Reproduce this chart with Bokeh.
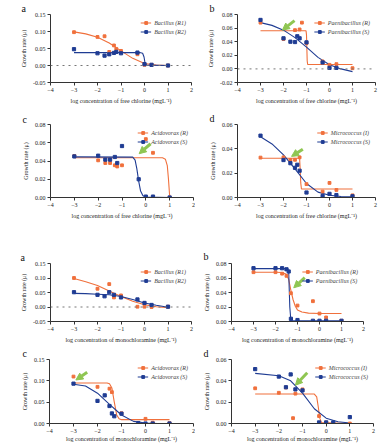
from bokeh.plotting import figure
from bokeh.models import (Range1d, FixedTicker, NumeralTickFormatter, Span, Arrow,
                          NormalHead, Legend, LegendItem)
from bokeh.layouts import column, row
from bokeh.embed import file_html
from bokeh.resources import INLINE

ORANGE = "#f0703c"
BLUE = "#1f3c93"
GREEN = "#8fc652"
FONT = "Liberation Serif"

X_TICKS = [-4, -3, -2, -1, 0, 1, 2]
XLAB_FC = "log concentration of free chlorine (mgL\u207b\u00b9)"
XLAB_MC = "log concentration of monochloramine (mgL\u207b\u00b9)"
YLAB = "Growth rate (\u03bc)"

# ---------------- Free chlorine ----------------
# a: Bacillus
fc_a_r1_x = [-3, -2, -1.7, -1.5, -1.3, -1.2, -1, -0.3, 0, 0.3, 1]
fc_a_r1_y = [0.098, 0.084, 0.086, 0.040, 0.059, 0.049, 0.043, 0.033, 0.002, 0.002, 0.0]
fc_a_r2_x = [-3, -2, -1.7, -1.5, -1.3, -1.2, -1, -0.3, 0, 0.3, 1]
fc_a_r2_y = [0.048, 0.036, 0.029, 0.033, 0.037, 0.040, 0.036, 0.038, 0.004, 0.002, 0.0]
fc_a_r1_fx = [-3, -2.5, -2, -1.5, -1, -0.5, 0, 0.5, 1]
fc_a_r1_fy = [0.099, 0.093, 0.083, 0.066, 0.043, 0.021, 0.006, 0.001, 0.0]
fc_a_r2_fx = [-3, -0.2, -0.08, -0.02, 0.02, 0.1, 1]
fc_a_r2_fy = [0.038, 0.038, 0.036, 0.025, 0.008, 0.001, 0.0]

# b: Paenibacillus
fc_b_r_x = [-3, -2, -1.5, -1.3, -1.2, -1, -0.3, 0, 0.3, 1]
fc_b_r_y = [0.068, 0.044, 0.057, 0.058, 0.068, 0.038, 0.011, 0.006, 0.007, 0.001]
fc_b_s_x = [-3, -2, -1.7, -1.5, -1.4, -1.3, -1, -0.3, 0, 0.3]
fc_b_s_y = [0.072, 0.045, 0.040, 0.0395, 0.048, 0.045, 0.039, 0.0095, 0.0015, 0.0015]
fc_b_r_fx = [-3, -1.02, -1.0, -0.97, -0.95, 1]
fc_b_r_fy = [0.056, 0.056, 0.05, 0.012, 0.0065, 0.0065]
fc_b_s_fx = [-3, -2.5, -2, -1.5, -1, -0.5, 0, 0.5, 1]
fc_b_s_fy = [0.068, 0.064, 0.057, 0.046, 0.032, 0.017, 0.006, 0.0, -0.004]

# c: Acidovorax
fc_c_r_x = [-3, -2, -1.7, -1.5, -1.3, -1.2, -1, 0, 0.3, 1]
fc_c_r_y = [0.0455, 0.0407, 0.0378, 0.0378, 0.0353, 0.034, 0.0353, 0.064, 0.049, 0.0]
fc_c_s_x = [-3, -2, -1.7, -1.5, -1.3, -1.2, -1, -0.3, 0, 0.3, 1]
fc_c_s_y = [0.045, 0.0458, 0.0415, 0.0415, 0.0444, 0.0378, 0.0564, 0.02, 0.001, 0.001, 0.0]
fc_c_r_fx = [-3, 0.7, 0.82, 0.9, 0.95, 0.99, 1.01]
fc_c_r_fy = [0.0435, 0.0435, 0.042, 0.035, 0.02, 0.005, 0.0]
fc_c_s_fx = [-3, -0.55, -0.45, -0.38, -0.3, -0.22, -0.12, 0, 1]
fc_c_s_fy = [0.0445, 0.0443, 0.041, 0.032, 0.018, 0.007, 0.002, 0.0005, 0.0]

# d: Micrococcus
fc_d_i_x = [-3, -2, -1.7, -1.5, -1.3, -1, -0.3, 0, 0.3, 1]
fc_d_i_y = [0.0328, 0.033, 0.0308, 0.031, 0.033, 0.011, 0.0049, 0.012, 0.0062, 0.0018]
fc_d_s_x = [-3, -2, -1.7, -1.5, -1.4, -1.3, -1, -0.3, 0, 0.3, 1]
fc_d_s_y = [0.0508, 0.0308, 0.0282, 0.0244, 0.0269, 0.022, 0.0041, 0.0013, 0.003, 0.002, 0.001]
fc_d_i_fx = [-3, -1.3, -1.28, -1.25, -1.22, 1]
fc_d_i_fy = [0.0323, 0.0323, 0.025, 0.012, 0.007, 0.007]
fc_d_s_fx = [-3, -2.5, -2, -1.5, -1, -0.5, 0, 0.5, 1]
fc_d_s_fy = [0.050, 0.044, 0.035, 0.0236, 0.0115, 0.0044, 0.0018, 0.0008, 0.0005]

# ---------------- Monochloramine ----------------
# a: Bacillus
mc_a_r1_x = [-3, -2, -1.5, -1.3, -1, -0.3, 0, 0.3, 1]
mc_a_r1_y = [0.1, 0.063, 0.079, 0.033, 0.04, 0.001, 0.001, 0.0, 0.001]
mc_a_r2_x = [-3, -2, -1.7, -1.5, -1.3, -1, -0.3, 0, 0.3, 1]
mc_a_r2_y = [0.051, 0.042, 0.037, 0.051, 0.042, 0.033, 0.026, 0.014, 0.007, 0.001]
mc_a_r1_fx = [-3, -2.5, -2, -1.5, -1, -0.5, 0, 0.5, 1]
mc_a_r1_fy = [0.098, 0.087, 0.074, 0.055, 0.036, 0.02, 0.008, 0.001, -0.002]
mc_a_r2_fx = [-3, -2.5, -2, -1.5, -1, -0.5, 0, 0.5, 1]
mc_a_r2_fy = [0.047, 0.046, 0.044, 0.042, 0.036, 0.026, 0.014, 0.006, -0.001]

# b: Paenibacillus
mc_b_r_x = [-3, -2, -1.7, -1.5, -1.3, -1, -0.3, 0, 0.3, 1]
mc_b_r_y = [0.068, 0.068, 0.066, 0.063, 0.039, 0.022, 0.028, 0.011, 0.0056, 0.001]
mc_b_s_x = [-3, -2, -1.7, -1.5, -1.4, -1.3, -1, -0.3, 0, 0.3, 1]
mc_b_s_y = [0.0735, 0.0735, 0.0735, 0.072, 0.069, 0.0037, 0.002, 0.001, 0.001, 0.001, 0.001]
mc_b_r_fx = [-3, -2, -1.7, -1.5, -1.4, -1.3, -1.2, -1.1, -1, -0.8, -0.5, 0, 1]
mc_b_r_fy = [0.068, 0.068, 0.0675, 0.065, 0.058, 0.043, 0.03, 0.021, 0.016, 0.013, 0.0115, 0.011, 0.011]
mc_b_s_fx = [-3, -1.45, -1.4, -1.35, -1.3, 1]
mc_b_s_fy = [0.073, 0.073, 0.068, 0.02, 0.001, 0.001]

# c: Acidovorax
mc_c_r_x = [-3, -2, -1.5, -1.4, -1, 0, 0.3, 1]
mc_c_r_y = [0.11, 0.086, 0.0816, 0.0735, 0.024, 0.011, 0.002, 0.001]
mc_c_s_x = [-3, -2, -1.7, -1.5, -1.4, -1.3, -1, -0.3, 0, 0.3, 1]
mc_c_s_y = [0.0934, 0.053, 0.066, 0.041, 0.0235, 0.017, 0.023, 0.001, 0.0, 0.0, 0.0]
mc_c_r_fx = [-3, -1.6, -1.5, -1.4, -1.3, -1.2, -1.1, -1, 1]
mc_c_r_fy = [0.095, 0.095, 0.093, 0.083, 0.05, 0.02, 0.011, 0.009, 0.009]
mc_c_s_fx = [-3, -2.5, -2, -1.5, -1, -0.5, 0, 0.5, 1]
mc_c_s_fy = [0.092, 0.088, 0.071, 0.045, 0.02, 0.005, 0.001, 0.0, 0.0]

# d: Micrococcus
mc_d_i_x = [-3, -2, -1.7, -1.4, -1.3, -1, -0.3, 0, 1]
mc_d_i_y = [0.033, 0.0288, 0.0338, 0.005, 0.028, 0.032, 0.007, 0.001, 0.0]
mc_d_s_x = [-3, -2, -1.7, -1.5, -1.3, -1, -0.3, 0, 0.3, 1]
mc_d_s_y = [0.051, 0.044, 0.034, 0.046, 0.032, 0.031, 0.001, 0.001, 0.001, 0.006]
mc_d_i_fx = [-3, -0.5, -0.4, -0.33, -0.27, -0.2, 1]
mc_d_i_fy = [0.0276, 0.0276, 0.025, 0.015, 0.005, 0.001, 0.0]
mc_d_s_fx = [-3, -2, -1.5, -1, -0.5, 0, 0.5, 1]
mc_d_s_fy = [0.047, 0.0447, 0.040, 0.0285, 0.0138, 0.005, 0.0017, 0.0005]


def panel(letter, lx, w, h, bl, br, bt, bb, yr, yticks, xlab,
          o_pts, b_pts, o_fit, b_fit, names, arrow=None, zero=False, xl_standoff=3, lstand=1):
    p = figure(width=w, height=h, x_range=Range1d(-4, 2), y_range=Range1d(*yr),
               output_backend="svg", toolbar_location=None,
               min_border_left=bl, min_border_right=br,
               min_border_top=bt, min_border_bottom=bb)
    p.grid.visible = False
    p.outline_line_color = None
    # panel letter as the figure title
    p.title.text = letter
    p.title.align = "left"
    p.title.offset = lx - bl
    p.title.standoff = lstand
    p.title.text_font = FONT
    p.title.text_font_size = "10px"
    p.title.text_font_style = "normal"
    p.title.text_color = "#111111"
    for ax in (p.xaxis[0], p.yaxis[0]):
        ax.major_tick_in = 0
        ax.major_tick_out = 3
        ax.minor_tick_in = 0
        ax.minor_tick_out = 0
        ax.axis_line_color = "#333333"
        ax.major_tick_line_color = "#333333"
        ax.major_label_text_font = FONT
        ax.major_label_text_font_size = "6px"
        ax.major_label_text_color = "#222222"
        ax.major_label_standoff = 2
        ax.axis_label_text_font = FONT
        ax.axis_label_text_font_size = "6px"
        ax.axis_label_text_font_style = "normal"
        ax.axis_label_text_color = "#222222"
    p.xaxis.ticker = FixedTicker(ticks=X_TICKS)
    p.yaxis.ticker = FixedTicker(ticks=yticks)
    p.yaxis.formatter = NumeralTickFormatter(format="0.00")
    p.xaxis.axis_label = xlab
    p.xaxis.axis_label_standoff = xl_standoff
    p.yaxis.axis_label = YLAB
    p.yaxis.axis_label_standoff = 3

    if zero:
        p.add_layout(Span(location=0, dimension="width", line_color="#777777",
                          line_dash="dotted", line_width=1))

    lo = p.line(o_fit[0], o_fit[1], line_color=ORANGE, line_width=1.1)
    lb = p.line(b_fit[0], b_fit[1], line_color=BLUE, line_width=1.1)
    so = p.scatter(o_pts[0], o_pts[1], marker="square", size=2.8, color=ORANGE)
    sb = p.scatter(b_pts[0], b_pts[1], marker="square", size=3.2, color=BLUE)

    if arrow is not None:
        p.add_layout(Arrow(end=NormalHead(size=7, fill_color=GREEN, line_color=GREEN),
                           x_start=arrow[0], y_start=arrow[1], x_end=arrow[2], y_end=arrow[3],
                           line_color=GREEN, line_width=3))

    leg = Legend(items=[LegendItem(label=names[0], renderers=[lo, so]),
                        LegendItem(label=names[1], renderers=[lb, sb])],
                 location="top_right", label_text_font=FONT, label_text_font_style="italic",
                 label_text_font_size="6px", glyph_width=11, glyph_height=7,
                 label_height=7, spacing=2, padding=2, margin=3, label_standoff=3,
                 background_fill_alpha=0, border_line_alpha=0)
    p.add_layout(leg)
    return p


pa = panel("a", 21, 195, 106, 50, 4, 14, 23, (-0.05, 0.15), [-0.05, 0, 0.05, 0.10, 0.15], XLAB_FC,
           (fc_a_r1_x, fc_a_r1_y), (fc_a_r2_x, fc_a_r2_y), (fc_a_r1_fx, fc_a_r1_fy), (fc_a_r2_fx, fc_a_r2_fy),
           ("Bacillus (R1)", "Bacillus (R2)"), zero=True)
pb = panel("b", 14, 184, 106, 42, 4, 14, 22, (-0.02, 0.08), [-0.02, 0, 0.02, 0.04, 0.06, 0.08], XLAB_FC,
           (fc_b_r_x, fc_b_r_y), (fc_b_s_x, fc_b_s_y), (fc_b_r_fx, fc_b_r_fy), (fc_b_s_fx, fc_b_s_fy),
           ("Paenibacillus (R)", "Paenibacillus (S)"), arrow=(-1.52, 0.071, -2.05, 0.057), zero=True)
pc = panel("c", 22, 195, 116, 50, 2, 18, 25, (0, 0.08), [0, 0.02, 0.04, 0.06, 0.08], XLAB_FC,
           (fc_c_r_x, fc_c_r_y), (fc_c_s_x, fc_c_s_y), (fc_c_r_fx, fc_c_r_fy), (fc_c_s_fx, fc_c_s_fy),
           ("Acidovorax (R)", "Acidovorax (S)"), arrow=(0.2, 0.0589, -0.28, 0.048), lstand=0)
pd_ = panel("d", 14, 184, 116, 42, 4, 13, 25, (0, 0.06), [0, 0.02, 0.04, 0.06], XLAB_FC,
            (fc_d_i_x, fc_d_i_y), (fc_d_s_x, fc_d_s_y), (fc_d_i_fx, fc_d_i_fy), (fc_d_s_fx, fc_d_s_fy),
            ("Micrococcus (I)", "Micrococcus (S)"), arrow=(-1.16, 0.0397, -1.65, 0.0338))

qa = panel("a", 20, 195, 123, 50, 4, 41, 24, (-0.05, 0.15), [-0.05, 0, 0.05, 0.10, 0.15], XLAB_MC,
           (mc_a_r1_x, mc_a_r1_y), (mc_a_r2_x, mc_a_r2_y), (mc_a_r1_fx, mc_a_r1_fy), (mc_a_r2_fx, mc_a_r2_fy),
           ("Bacillus (R1)", "Bacillus (R2)"), zero=True, lstand=2)
qb = panel("b", 8, 184, 123, 36, 16, 41, 24, (0, 0.08), [0, 0.02, 0.04, 0.06, 0.08], XLAB_MC,
           (mc_b_r_x, mc_b_r_y), (mc_b_s_x, mc_b_s_y), (mc_b_r_fx, mc_b_r_fy), (mc_b_s_fx, mc_b_s_fy),
           ("Paenibacillus (R)", "Paenibacillus (S)"), arrow=(-0.67, 0.0605, -1.17, 0.0465), lstand=3)
qc = panel("c", 22, 195, 99, 49, 2, 13, 18, (0, 0.15), [0, 0.05, 0.10, 0.15], XLAB_MC,
           (mc_c_r_x, mc_c_r_y), (mc_c_s_x, mc_c_s_y), (mc_c_r_fx, mc_c_r_fy), (mc_c_s_fx, mc_c_s_fy),
           ("Acidovorax (R)", "Acidovorax (S)"), arrow=(-2.43, 0.12, -2.9, 0.102), xl_standoff=0)
qd = panel("d", 8, 184, 99, 36, 6, 13, 18, (0, 0.06), [0, 0.02, 0.04, 0.06], XLAB_MC,
           (mc_d_i_x, mc_d_i_y), (mc_d_s_x, mc_d_s_y), (mc_d_i_fx, mc_d_i_fy), (mc_d_s_fx, mc_d_s_fy),
           ("Micrococcus (I)", "Micrococcus (S)"), arrow=(-0.8, 0.0476, -1.3, 0.0359), xl_standoff=0)

layout = column(row(pa, pb), row(pc, pd_), row(qa, qb), row(qc, qd))
open("out.html", "w").write(file_html(layout, INLINE))
